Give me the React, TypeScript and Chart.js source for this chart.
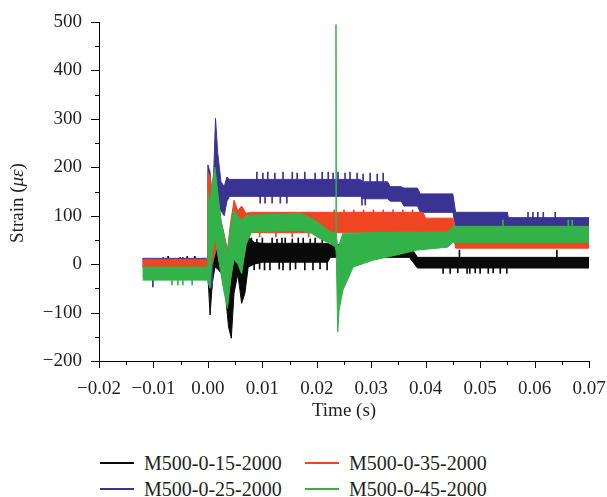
import { useEffect, useRef } from "react";
import { Chart, registerables } from "chart.js";

Chart.register(...registerables);

const FONT = '"Liberation Serif", "Times New Roman", serif';

// ---- series names / colours ----
const seriesNames = ["M500-0-15-2000", "M500-0-25-2000", "M500-0-35-2000", "M500-0-45-2000"];
const seriesColors = ["#0a0a0a", "#3b3393", "#ef4523", "#33b24a"];

// ---- tick values ----
const xTickValues = [-0.02, -0.01, 0.0, 0.01, 0.02, 0.03, 0.04, 0.05, 0.06, 0.07];
const yTickValues = [-200, -100, 0, 100, 200, 300, 400, 500];

// ---- M500-0-15-2000 (black): time (s), upper / lower envelope of the noisy trace (με) ----
const blackTime = [-0.012, -0.0001, 0.0, 0.0004, 0.0008, 0.0013, 0.0018, 0.0025, 0.0032, 0.0038, 0.0043, 0.0048, 0.0055, 0.0062, 0.0068, 0.0074, 0.0085, 0.01, 0.022, 0.0225, 0.037, 0.0385, 0.07];
const blackHigh = [10, 10, 10, 40, 30, 50, 45, 40, 20, 0, -30, 64, 55, 30, 20, 56, 45, 43, 43, 40, 40, 14, 14];
const blackLow = [-5, -5, -5, -105, -40, -6, -10, -20, -60, -130, -153, -60, -20, -81, -60, -6, 0, 4, 4, 14, 14, -8, -8];
// isolated spikes of the black trace: time, start, end
const blackSpikeTime = [-0.0073, -0.0038, -0.0024, 0.008, 0.009, 0.01, 0.0118, 0.0127, 0.0136, 0.0142, 0.0155, 0.0166, 0.0175, 0.0188, 0.0197, 0.021, 0.0085, 0.0095, 0.0104, 0.0114, 0.0131, 0.0138, 0.0151, 0.0161, 0.0178, 0.0193, 0.0206, 0.0219, 0.0432, 0.0445, 0.0459, 0.0476, 0.0481, 0.0491, 0.05, 0.0515, 0.0524, 0.0537, 0.0549, 0.0462, 0.0641];
const blackSpikeFrom = [5, 5, 5, 35, 35, 35, 35, 35, 35, 35, 35, 35, 35, 35, 35, 35, 10, 10, 10, 10, 10, 10, 10, 10, 10, 10, 10, 10, 0, 0, 0, 0, 0, 0, 0, 0, 0, 0, 0, 5, 5];
const blackSpikeTo = [16, 16, 16, 54, 52, 54, 54, 52, 54, 54, 52, 54, 54, 52, 54, 54, -12, -10, -12, -12, -10, -12, -12, -10, -12, -12, -10, -12, -19, -19, -18, -19, -19, -18, -19, -19, -18, -19, -19, 29, 29];

// ---- M500-0-25-2000 (blue) ----
const blueTime = [-0.012, -0.0001, 0.0, 0.0004, 0.0008, 0.0011, 0.0014, 0.0018, 0.0024, 0.003, 0.0035, 0.004, 0.028, 0.0285, 0.033, 0.0335, 0.0355, 0.036, 0.0385, 0.039, 0.045, 0.0455, 0.055, 0.0552, 0.07];
const blueHigh = [12, 12, 205, 190, 120, 200, 301, 230, 170, 160, 180, 175, 175, 170, 170, 160, 160, 157, 157, 145, 145, 107, 107, 96, 96];
const blueLow = [-25, -25, -25, -40, -50, 60, 150, 110, 110, 100, 130, 140, 140, 135, 135, 130, 130, 120, 120, 107, 107, 77, 77, 77, 77];
const blueSpikeTime = [-0.0101, -0.0082, -0.0051, -0.0046, 0.009, 0.0101, 0.011, 0.0123, 0.0138, 0.0155, 0.0164, 0.0178, 0.0197, 0.021, 0.0221, 0.023, 0.0239, 0.0252, 0.0261, 0.0274, 0.0285, 0.0298, 0.0311, 0.0322, 0.0096, 0.0105, 0.0118, 0.0133, 0.0145, 0.0283, 0.0289, 0.0588, 0.0597, 0.0606, 0.0616, 0.0638];
const blueSpikeFrom = [-15, 5, 5, 5, 165, 165, 165, 165, 165, 165, 165, 165, 165, 165, 165, 165, 165, 165, 165, 165, 160, 160, 160, 160, 150, 150, 150, 150, 150, 145, 145, 90, 90, 90, 90, 90];
const blueSpikeTo = [-47, 14, 14, 14, 190, 188, 190, 188, 190, 190, 188, 190, 188, 190, 190, 188, 190, 188, 190, 188, 186, 188, 186, 188, 126, 126, 126, 126, 126, 122, 122, 107, 107, 107, 107, 107];

// ---- M500-0-35-2000 (red) ----
const redTime = [-0.012, -0.0001, 0.0, 0.0004, 0.0008, 0.0013, 0.0018, 0.0024, 0.003, 0.0036, 0.0041, 0.0048, 0.0055, 0.0062, 0.007, 0.008, 0.0395, 0.04, 0.045, 0.0455, 0.07];
const redHigh = [10, 10, 190, 180, 150, 120, 140, 90, 60, 30, 80, 132, 110, 120, 105, 107, 107, 95, 95, 72, 72];
const redLow = [-6, -6, -6, 40, 0, 20, 40, 0, -40, -74, -40, 30, 40, 50, 55, 65, 65, 66, 66, 33, 33];
const redSpikeTime = [0.0232, 0.025, 0.0268, 0.0286, 0.0304, 0.0322, 0.034, 0.0358, 0.0376, 0.0095, 0.0125, 0.0155, 0.0185, 0.0215];
const redSpikeFrom = [100, 100, 100, 100, 100, 100, 100, 100, 100, 70, 70, 70, 70, 70];
const redSpikeTo = [112, 112, 112, 112, 112, 112, 112, 112, 112, 56, 56, 56, 56, 56];

// ---- M500-0-45-2000 (green) ----
const greenTime = [-0.012, -0.0001, 0.0, 0.0004, 0.0008, 0.0013, 0.0018, 0.0024, 0.003, 0.0036, 0.0042, 0.0048, 0.0055, 0.0062, 0.007, 0.008, 0.017, 0.019, 0.021, 0.0225, 0.0234, 0.02353, 0.0236, 0.02385, 0.0241, 0.0248, 0.0267, 0.0303, 0.0347, 0.0384, 0.044, 0.045, 0.07];
const greenHigh = [-6, -6, 150, 120, 170, 200, 150, 90, 60, 20, 80, 111, 100, 90, 100, 101, 105, 95, 80, 66, 64, 495, 60, 35, 40, 64, 64, 65, 66, 66, 66, 78, 78];
const greenLow = [-33, -33, -33, -50, 20, 60, 20, -20, -60, -91, -30, 10, 0, -20, 40, 66, 70, 64, 50, 43, 35, 30, 10, -140, -95, -54, -6, 8, 19, 29, 35, 45, 45];
const greenSpikeTime = [-0.0066, -0.0055, -0.0046, -0.0029, 0.0542, 0.0662, 0.0669];
const greenSpikeFrom = [-25, -25, -25, -25, 70, 70, 70];
const greenSpikeTo = [-43, -43, -43, -43, 91, 91, 91];

const seriesTimes = [blackTime, blueTime, redTime, greenTime];
const seriesHigh = [blackHigh, blueHigh, redHigh, greenHigh];
const seriesLow = [blackLow, blueLow, redLow, greenLow];
const spikeTimes = [blackSpikeTime, blueSpikeTime, redSpikeTime, greenSpikeTime];
const spikeFrom = [blackSpikeFrom, blueSpikeFrom, redSpikeFrom, greenSpikeFrom];
const spikeTo = [blackSpikeTo, blueSpikeTo, redSpikeTo, greenSpikeTo];

// legend layout order (two columns): black, red / blue, green
const legendOrder = [0, 2, 1, 3];

const fmtX = (v: number) => {
  if (Math.abs(v) < 1e-9) return "0.00";
  return (v < 0 ? "\u2212" : "") + Math.abs(v).toFixed(2);
};
const fmtY = (v: number) => (v < 0 ? "\u2212" + Math.abs(v) : String(v));

const tickPlugin = {
  id: "minorTicks",
  afterDraw(chart: any) {
    const { ctx, chartArea, scales } = chart;
    const xs = scales.x;
    const ys = scales.y;
    ctx.save();
    ctx.strokeStyle = "#000";
    ctx.lineWidth = 1;
    ctx.beginPath();
    for (let i = 0; i < xTickValues.length; i++) {
      const px = Math.round(xs.getPixelForValue(xTickValues[i])) + 0.5;
      ctx.moveTo(px, chartArea.bottom);
      ctx.lineTo(px, chartArea.bottom + 7);
      if (i < xTickValues.length - 1) {
        const mx = Math.round(xs.getPixelForValue((xTickValues[i] + xTickValues[i + 1]) / 2)) + 0.5;
        ctx.moveTo(mx, chartArea.bottom);
        ctx.lineTo(mx, chartArea.bottom + 4);
      }
    }
    for (let i = 0; i < yTickValues.length; i++) {
      const py = Math.round(ys.getPixelForValue(yTickValues[i])) + 0.5;
      ctx.moveTo(chartArea.left, py);
      ctx.lineTo(chartArea.left - 8, py);
      if (i < yTickValues.length - 1) {
        const my = Math.round(ys.getPixelForValue((yTickValues[i] + yTickValues[i + 1]) / 2)) + 0.5;
        ctx.moveTo(chartArea.left, my);
        ctx.lineTo(chartArea.left - 4, my);
      }
    }
    ctx.stroke();

    // axis titles
    ctx.fillStyle = "#231f20";
    ctx.textBaseline = "middle";
    ctx.textAlign = "center";
    ctx.font = `19px ${FONT}`;
    ctx.fillText("Time (s)", (chartArea.left + chartArea.right) / 2, 411);

    ctx.translate(18, 203);
    ctx.rotate(-Math.PI / 2);
    ctx.textAlign = "left";
    const parts = [
      { t: "Strain (", f: `19px ${FONT}` },
      { t: "\u03bc\u03b5", f: `italic 19px ${FONT}` },
      { t: ")", f: `19px ${FONT}` },
    ];
    let total = 0;
    for (const p of parts) {
      ctx.font = p.f;
      total += ctx.measureText(p.t).width;
    }
    let x = -total / 2;
    for (const p of parts) {
      ctx.font = p.f;
      ctx.fillText(p.t, x, 0);
      x += ctx.measureText(p.t).width;
    }
    ctx.restore();
  },
};

function StrainChart() {
  const ref = useRef<HTMLCanvasElement | null>(null);
  useEffect(() => {
    if (!ref.current) return;
    const drawOrder = [3, 2, 1, 0]; // index 0 drawn on top in Chart.js -> green on top
    const datasets: any[] = [];
    for (const s of drawOrder) {
      const t = seriesTimes[s];
      datasets.push({
        type: "line",
        label: seriesNames[s],
        data: t.map((x, i) => ({ x, y: seriesHigh[s][i] })),
        borderColor: seriesColors[s],
        backgroundColor: seriesColors[s],
        borderWidth: 1,
        pointRadius: 0,
        fill: "+1",
        tension: 0,
      });
      datasets.push({
        type: "line",
        label: seriesNames[s] + " low",
        data: t.map((x, i) => ({ x, y: seriesLow[s][i] })),
        borderColor: seriesColors[s],
        backgroundColor: seriesColors[s],
        borderWidth: 1,
        pointRadius: 0,
        fill: false,
        tension: 0,
      });
      datasets.push({
        type: "bar",
        label: seriesNames[s] + " spikes",
        data: spikeTimes[s].map((x, i) => ({ x, y: [spikeFrom[s][i], spikeTo[s][i]] })),
        backgroundColor: seriesColors[s],
        borderWidth: 0,
        barThickness: 1,
        grouped: false,
      });
    }
    const chart = new Chart(ref.current, {
      type: "line",
      data: { datasets },
      options: {
        animation: false,
        responsive: false,
        devicePixelRatio: 1,
        layout: { padding: { top: 22, right: 18, left: 0, bottom: 0 } },
        plugins: { legend: { display: false }, tooltip: { enabled: false } },
        scales: {
          x: {
            type: "linear",
            min: -0.02,
            max: 0.07,
            offset: false,
            afterBuildTicks: (s: any) => {
              s.ticks = xTickValues.map((v) => ({ value: v }));
            },
            afterFit: (s: any) => {
              s.height = 79;
              s.paddingLeft = 0;
              s.paddingRight = 0;
              s.paddingTop = 0;
              s.paddingBottom = 0;
            },
            grid: { display: false, drawTicks: false, offset: false },
            border: { display: true, color: "#000", width: 1 },
            ticks: {
              autoSkip: false,
              maxRotation: 0,
              padding: 17,
              color: "#231f20",
              font: { family: FONT, size: 19 },
              callback: (v: any) => fmtX(Number(v)),
            },
          },
          y: {
            type: "linear",
            min: -200,
            max: 500,
            afterBuildTicks: (s: any) => {
              s.ticks = yTickValues.map((v) => ({ value: v }));
            },
            afterFit: (s: any) => {
              s.width = 99;
              s.paddingLeft = 0;
              s.paddingRight = 0;
              s.paddingTop = 0;
              s.paddingBottom = 0;
            },
            grid: { display: false, drawTicks: false },
            border: { display: true, color: "#000", width: 1 },
            ticks: {
              autoSkip: false,
              padding: 17,
              color: "#231f20",
              font: { family: FONT, size: 19 },
              callback: (v: any) => fmtY(Number(v)),
            },
          },
        },
      },
      plugins: [tickPlugin],
    });
    return () => chart.destroy();
  }, []);
  return <canvas ref={ref} width={607} height={440} style={{ display: "block", width: 607, height: 440 }} />;
}

export default function App() {
  return (
    <div style={{ position: "absolute", left: 0, top: 0, width: 607, height: 497, background: "#fff", overflow: "hidden" }}>
      <StrainChart />
      {legendOrder.map((s, k) => {
        const col = k % 2;
        const row = Math.floor(k / 2);
        return (
          <div
            key={s}
            style={{
              position: "absolute",
              left: col === 0 ? 100 : 305,
              top: (row === 0 ? 463 : 489) - 13,
              height: 26,
              display: "flex",
              alignItems: "center",
              fontFamily: FONT,
              fontSize: 20,
              color: "#231f20",
              whiteSpace: "nowrap",
            }}
          >
            <span style={{ display: "inline-block", width: 34, height: 2, background: seriesColors[s], marginRight: 10 }} />
            <span>{seriesNames[s]}</span>
          </div>
        );
      })}
    </div>
  );
}
